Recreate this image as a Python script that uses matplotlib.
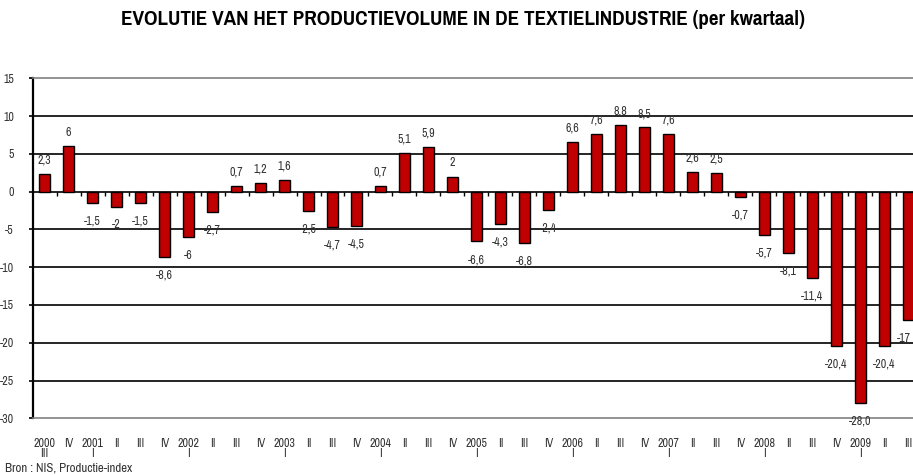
import matplotlib
matplotlib.use("Agg")
import matplotlib.pyplot as plt
from matplotlib import font_manager

quarters = ["2000\nIII", "IV",
            "2001\nI", "II", "III", "IV",
            "2002\nI", "II", "III", "IV",
            "2003\nI", "II", "III", "IV",
            "2004\nI", "II", "III", "IV",
            "2005\nI", "II", "III", "IV",
            "2006\nI", "II", "III", "IV",
            "2007\nI", "II", "III", "IV",
            "2008\nI", "II", "III", "IV",
            "2009\nI", "II", "III"]
values = [2.3, 6, -1.5, -2, -1.5, -8.6, -6, -2.7, 0.7, 1.2, 1.6, -2.5, -4.7,
          -4.5, 0.7, 5.1, 5.9, 2, -6.6, -4.3, -6.8, -2.4, 6.6, 7.6, 8.8, 8.5,
          7.6, 2.6, 2.5, -0.7, -5.7, -8.1, -11.4, -20.4, -28.0, -20.4, -17]
value_labels = ["2,3", "6", "-1,5", "-2", "-1,5", "-8,6", "-6", "-2,7", "0,7",
                "1,2", "1,6", "-2,5", "-4,7", "-4,5", "0,7", "5,1", "5,9", "2",
                "-6,6", "-4,3", "-6,8", "-2,4", "6,6", "7,6", "8,8", "8,5",
                "7,6", "2,6", "2,5", "-0,7", "-5,7", "-8,1", "-11,4", "-20,4",
                "-28,0", "-20,4", "-17"]
yticks = [-30, -25, -20, -15, -10, -5, 0, 5, 10, 15]

title = "EVOLUTIE VAN HET PRODUCTIEVOLUME IN DE TEXTIELINDUSTRIE (per kwartaal)"
source = "Bron : NIS, Productie-index"

names = {f.name for f in font_manager.fontManager.ttflist}
candidates = ['Liberation Sans Narrow', 'Pragati Narrow', 'Archivo Narrow',
              'PT Sans Narrow', 'Roboto Condensed']
chosen = next((c for c in candidates if c in names), None)
if chosen:
    plt.rcParams['font.family'] = [chosen, 'DejaVu Sans']
else:
    plt.rcParams['font.family'] = ['DejaVu Sans']
    plt.rcParams['font.stretch'] = 'condensed'

small = 9.3

fig = plt.figure(figsize=(9.13, 4.75), dpi=100)
ax = fig.add_axes([0.0365, 0.1194, 0.9635, 0.7158])

x = list(range(len(values)))
ax.bar(x, values, width=0.46, color='#C00000', edgecolor='black',
       linewidth=1.0, zorder=3)

for yt in yticks[1:-1]:
    ax.axhline(yt, color='black', linewidth=1.2, zorder=1)

ax.plot([i + 0.5 for i in x], [0] * len(x), linestyle='none', marker=3,
        markersize=3, color='black', zorder=4)

for xi, v, lab in zip(x, values, value_labels):
    off_y = 10 if v >= 0 else -13
    off_x = -3 if xi == x[-1] else 0
    ax.annotate(lab, (xi, v), xytext=(off_x, off_y), textcoords='offset points',
                ha='center', va='center', fontsize=small, color='#333333',
                zorder=5, annotation_clip=False)

ax.set_xlim(-0.467, 36.19)
ax.set_ylim(-30, 15)
ax.set_yticks(yticks)
ax.set_yticklabels([str(t) for t in yticks], fontsize=small, color='#333333')
ax.tick_params(axis='y', length=3, width=1.2, color='black', pad=11)
ax.set_xticks(x)
ax.set_xticklabels(quarters, fontsize=small, color='#333333', linespacing=0.95)
ax.tick_params(axis='x', length=0, pad=14)

ax.spines['right'].set_visible(False)
ax.spines['left'].set_linewidth(1.6)
ax.spines['left'].set_color('black')
ax.spines['top'].set_color('#808080')
ax.spines['top'].set_linewidth(1.2)
ax.spines['bottom'].set_color('#808080')
ax.spines['bottom'].set_linewidth(1.2)

fig.text(0.507, 0.958, title, ha='center', va='center', fontsize=16.5,
         fontweight='bold', color='black')
fig.text(0.005, 0.014, source, ha='left', va='center', fontsize=10,
         color='#333333')

fig.savefig('out.png', dpi=100)
